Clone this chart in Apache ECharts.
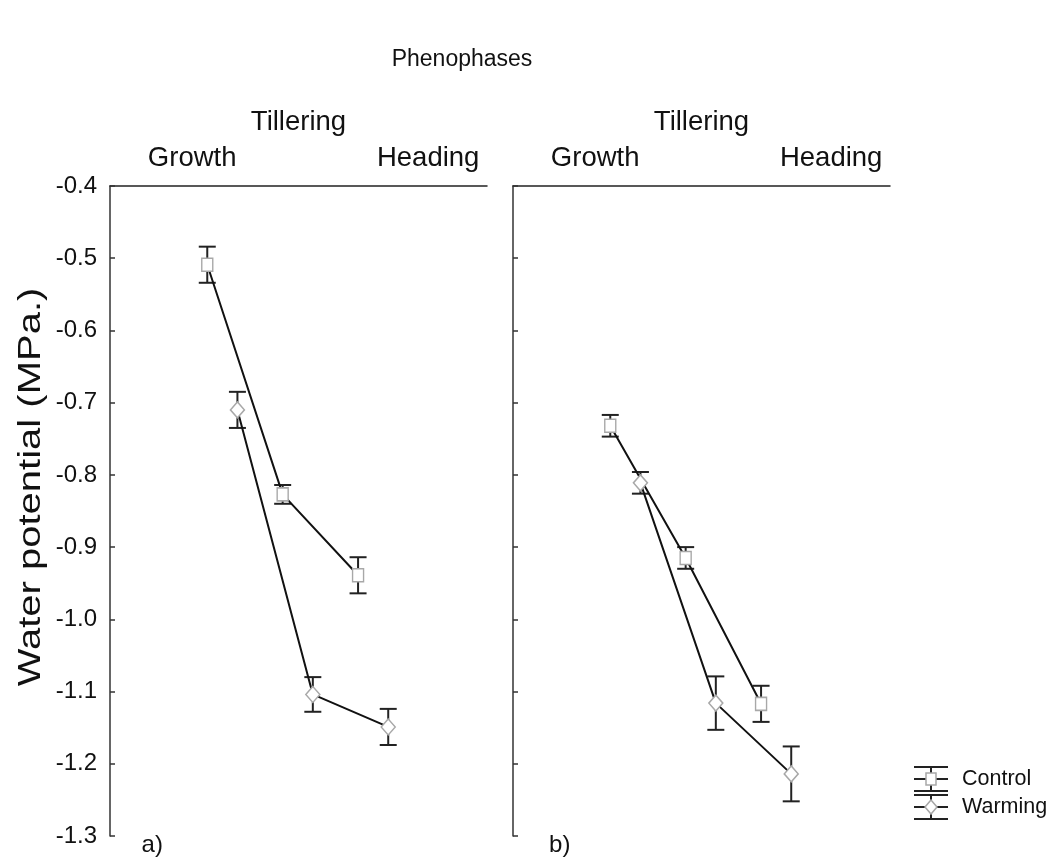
<!DOCTYPE html>
<html>
<head>
<meta charset="utf-8">
<script src="https://cdn.jsdelivr.net/npm/echarts@6/dist/echarts.min.js"></script>
<style>html,body{margin:0;padding:0;background:#fff}#c{width:1052px;height:861px}</style>
</head>
<body>
<div id="c"></div>
<script>
// ---- data ----
var phases = ['Growth', 'Tillering', 'Heading'];
var phasePos = [1.5, 2.5, 3.5];          // category centres on the hidden x scale
var phaseLabelPos = [1.09, 2.5, 4.22];   // where the phase names are written
var yTicks = [-1.3, -1.2, -1.1, -1.0, -0.9, -0.8, -0.7, -0.6, -0.5, -0.4];

var aControl = [-0.509, -0.827, -0.939];
var aControlErr = [0.025, 0.013, 0.025];
var aWarming = [-0.710, -1.104, -1.149];
var aWarmingErr = [0.025, 0.024, 0.025];

var bControl = [-0.732, -0.915, -1.117];
var bControlErr = [0.015, 0.015, 0.025];
var bWarming = [-0.811, -1.116, -1.214];
var bWarmingErr = [0.015, 0.037, 0.038];

var panelLabels = ['a)', 'b)'];
var seriesNames = ['Control', 'Warming'];
var yName = 'Water potential (MPa.)';
var titleText = 'Phenophases';

// ---- helpers ----
var FONT = 'Liberation Sans, Arial, sans-serif';
var CTRL_OFF = -0.21, WARM_OFF = 0.19;
function pts(vals, off) { return vals.map(function (v, i) { return [phasePos[i] + off, v]; }); }
function errPts(vals, errs, off) { return vals.map(function (v, i) { return [phasePos[i] + off, v, errs[i]]; }); }

function errRender(params, api) {
  var x = api.value(0), y = api.value(1), e = api.value(2);
  var t = api.coord([x, y + e]), b = api.coord([x, y - e]);
  var w = 8.5;
  var st = { stroke: '#222', lineWidth: 2 };
  return { type: 'group', children: [
    { type: 'line', shape: { x1: t[0], y1: t[1], x2: b[0], y2: b[1] }, style: st },
    { type: 'line', shape: { x1: t[0] - w, y1: t[1], x2: t[0] + w, y2: t[1] }, style: st },
    { type: 'line', shape: { x1: b[0] - w, y1: b[1], x2: b[0] + w, y2: b[1] }, style: st }
  ] };
}

var grids = [
  { left: 110, top: 186, width: 377, height: 650 },
  { left: 513, top: 186, width: 377, height: 650 }
];

function xAx(gi) {
  return { gridIndex: gi, type: 'value', min: 0, max: 5, position: 'top',
    axisLine: { show: true, onZero: false, lineStyle: { color: '#222', width: 1.5 } },
    axisTick: { show: false }, axisLabel: { show: false }, splitLine: { show: false } };
}
function yAx(gi, showLabels) {
  return { gridIndex: gi, type: 'value', min: -1.3, max: -0.4, interval: 0.1,
    axisLine: { show: true, onZero: false, lineStyle: { color: '#333', width: 1.5 } },
    axisTick: { show: true, inside: true, length: 5, lineStyle: { color: '#333', width: 1.5 } },
    splitLine: { show: false },
    axisLabel: { show: showLabels, margin: 13, fontFamily: FONT, fontSize: 24, color: '#111',
      customValues: yTicks,
      formatter: function (v) { return (Math.round(v * 10) / 10).toFixed(1); } } };
}

function panelSeries(gi, ctrl, ctrlErr, warm, warmErr) {
  var lineStyle = { color: '#111', width: 2 };
  var mk = { color: '#fff', borderColor: '#a8a8a8', borderWidth: 1.5 };
  return [
    { type: 'custom', xAxisIndex: gi, yAxisIndex: gi, z: 2, renderItem: errRender, data: errPts(ctrl, ctrlErr, CTRL_OFF), silent: true },
    { type: 'custom', xAxisIndex: gi, yAxisIndex: gi, z: 2, renderItem: errRender, data: errPts(warm, warmErr, WARM_OFF), silent: true },
    { name: seriesNames[0], type: 'line', xAxisIndex: gi, yAxisIndex: gi, z: 3, data: pts(ctrl, CTRL_OFF),
      symbol: 'rect', symbolSize: [11, 13], showAllSymbol: true, lineStyle: lineStyle, itemStyle: mk },
    { name: seriesNames[1], type: 'line', xAxisIndex: gi, yAxisIndex: gi, z: 3, data: pts(warm, WARM_OFF),
      symbol: 'diamond', symbolSize: [14, 16], showAllSymbol: true, lineStyle: lineStyle, itemStyle: mk }
  ];
}

var chart = echarts.init(document.getElementById('c'), null, { renderer: 'canvas' });
chart.setOption({
  animation: false,
  backgroundColor: '#fff',
  grid: grids,
  xAxis: [xAx(0), xAx(1)],
  yAxis: [yAx(0, true), yAx(1, false)],
  series: panelSeries(0, aControl, aControlErr, aWarming, aWarmingErr)
    .concat(panelSeries(1, bControl, bControlErr, bWarming, bWarmingErr))
});

// ---- texts placed from the axes ----
var g = [];
g.push({ type: 'text', x: 462, y: 60, style: { text: titleText, fontFamily: FONT, fontSize: 23, fill: '#111', align: 'center', verticalAlign: 'middle' } });
g.push({ type: 'text', x: 31, y: 487, rotation: Math.PI / 2, scaleX: 1.25,
  style: { text: yName, fontFamily: FONT, fontSize: 32, fill: '#111', align: 'center', verticalAlign: 'middle' } });
[0, 1].forEach(function (gi) {
  var top = grids[gi].top;
  phases.forEach(function (p, i) {
    var px = chart.convertToPixel({ xAxisIndex: gi }, phaseLabelPos[i]);
    g.push({ type: 'text', x: px, y: (i === 1 ? top - 64 : top - 28), style: { text: p, fontFamily: FONT, fontSize: 27.5, fill: '#111', align: 'center', verticalAlign: 'middle' } });
  });
  var lx = chart.convertToPixel({ xAxisIndex: gi }, gi === 0 ? 0.56 : 0.62);
  g.push({ type: 'text', x: lx, y: top + 659, style: { text: panelLabels[gi], fontFamily: FONT, fontSize: 24, fill: '#111', align: 'center', verticalAlign: 'middle' } });
});
// legend
var legY = [779, 807];
seriesNames.forEach(function (n, i) {
  var cy = legY[i], cx = 931;
  var st = { stroke: '#222', lineWidth: 2 };
  g.push({ type: 'line', shape: { x1: cx, y1: cy - 12, x2: cx, y2: cy + 12 }, style: st });
  g.push({ type: 'line', shape: { x1: cx - 17, y1: cy - 12, x2: cx + 17, y2: cy - 12 }, style: st });
  g.push({ type: 'line', shape: { x1: cx - 17, y1: cy + 12, x2: cx + 17, y2: cy + 12 }, style: st });
  g.push({ type: 'line', shape: { x1: cx - 17, y1: cy, x2: cx + 17, y2: cy }, style: st });
  if (i === 0) {
    g.push({ type: 'rect', shape: { x: cx - 5, y: cy - 6, width: 10, height: 12 }, style: { fill: '#fff', stroke: '#a8a8a8', lineWidth: 1.5 } });
  } else {
    g.push({ type: 'polygon', shape: { points: [[cx, cy - 7], [cx + 6, cy], [cx, cy + 7], [cx - 6, cy]] }, style: { fill: '#fff', stroke: '#a8a8a8', lineWidth: 1.5 } });
  }
  g.push({ type: 'text', x: 962, y: cy, style: { text: n, fontFamily: FONT, fontSize: 21.5, fill: '#111', align: 'left', verticalAlign: 'middle' } });
});
chart.setOption({ graphic: g });
</script>
</body>
</html>
